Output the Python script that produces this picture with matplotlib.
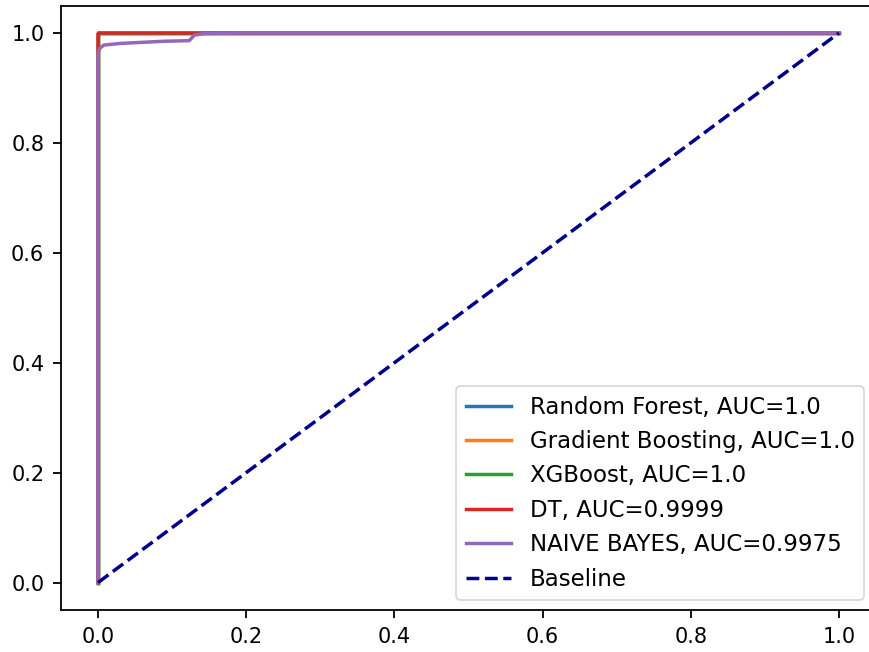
import matplotlib
matplotlib.use("Agg")
import matplotlib.pyplot as plt

rf_fpr = [0.0, 0.0, 0.0, 1.0]
rf_tpr = [0.0, 0.995, 1.0, 1.0]
gb_fpr = [0.0, 0.0, 0.0, 1.0]
gb_tpr = [0.0, 0.99, 1.0, 1.0]
xgb_fpr = [0.0, 0.0, 0.0, 1.0]
xgb_tpr = [0.0, 0.998, 1.0, 1.0]
dt_fpr = [0.0, 0.0, 0.0005, 1.0]
dt_tpr = [0.0, 0.998, 1.0, 1.0]
nb_fpr = [0.0, 0.0, 0.002, 0.008, 0.03, 0.06, 0.09, 0.123, 0.13, 0.143, 0.2, 1.0]
nb_tpr = [0.0, 0.96, 0.972, 0.978, 0.981, 0.983, 0.985, 0.986, 0.996, 0.999, 1.0, 1.0]
base_x = [0.0, 1.0]
base_y = [0.0, 1.0]

labels = ["Random Forest, AUC=1.0", "Gradient Boosting, AUC=1.0",
          "XGBoost, AUC=1.0", "DT, AUC=0.9999", "NAIVE BAYES, AUC=0.9975", "Baseline"]

fig = plt.figure(figsize=(8.69, 6.52), dpi=100)
W, H = 869, 652
ax = fig.add_axes([61 / W, (H - 610) / H, 815 / W, 604.5 / H])
lw = 2.5
ax.plot(rf_fpr, rf_tpr, color="#1f77b4", lw=lw, label=labels[0])
ax.plot(gb_fpr, gb_tpr, color="#ff7f0e", lw=lw, label=labels[1])
ax.plot(xgb_fpr, xgb_tpr, color="#2ca02c", lw=lw, label=labels[2])
ax.plot(dt_fpr, dt_tpr, color="#d62728", lw=lw, label=labels[3])
ax.plot(nb_fpr, nb_tpr, color="#9467bd", lw=lw, label=labels[4])
ax.plot(base_x, base_y, color="#00008b", lw=lw, ls="--", label=labels[5])

ax.set_xlim(-0.05, 1.05)
ax.set_ylim(-0.05, 1.05)
ax.set_xticks([0.0, 0.2, 0.4, 0.6, 0.8, 1.0])
ax.set_yticks([0.0, 0.2, 0.4, 0.6, 0.8, 1.0])
ax.tick_params(labelsize=15, length=6, width=1.3, pad=6)
for s in ax.spines.values():
    s.set_linewidth(1.3)
ax.spines["right"].set_visible(False)
leg = ax.legend(loc="lower right", fontsize=16.5, handlelength=2.0,
                borderaxespad=0.0, bbox_to_anchor=((864 - 61) / 815, (610 - 600) / 604.5))
leg.get_frame().set_linewidth(1.2)

fig.savefig("out.png", dpi=100)
